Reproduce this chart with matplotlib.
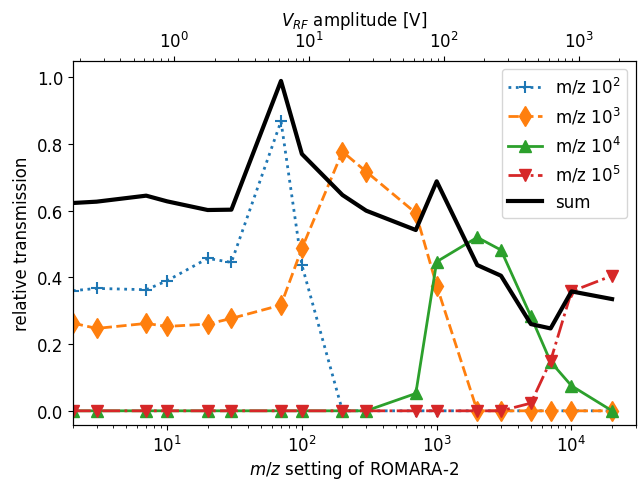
import matplotlib
matplotlib.use('Agg')
import matplotlib.pyplot as plt

plt.rcParams['font.size'] = 12

# m/z settings of ROMARA-2
mz = [2, 3, 7, 10, 20, 30, 70, 100, 200, 300, 700, 1000, 2000, 3000, 5000, 7000, 10000, 20000]

t_1e2 = [0.360, 0.367, 0.363, 0.390, 0.457, 0.445, 0.868, 0.437, 0, 0, 0, 0, 0, 0, 0, 0, 0, 0]
t_1e3 = [0.263, 0.247, 0.262, 0.253, 0.260, 0.277, 0.317, 0.487, 0.777, 0.717, 0.593, 0.375, 0, 0, 0, 0, 0, 0]
t_1e4 = [0, 0, 0, 0, 0, 0, 0, 0, 0, 0, 0.052, 0.447, 0.520, 0.482, 0.283, 0.147, 0.075, 0]
t_1e5 = [0, 0, 0, 0, 0, 0, 0, 0, 0, 0, 0, 0, 0, 0, 0.023, 0.150, 0.358, 0.405]
t_sum = [0.623, 0.627, 0.645, 0.628, 0.602, 0.603, 0.989, 0.770, 0.647, 0.600, 0.542, 0.688,
         0.437, 0.405, 0.260, 0.247, 0.358, 0.335]

# RF amplitude per unit m/z
volt_per_mz = 0.0887

fig, ax = plt.subplots(figsize=(6.39, 4.81), dpi=100)
fig.subplots_adjust(left=0.114, right=0.995, bottom=0.114, top=0.872)

ax.plot(mz, t_1e2, ':', marker='+', ms=9, mew=1.5, lw=2, color='tab:blue', label='m/z $10^2$')
ax.plot(mz, t_1e3, '--', marker='d', ms=10, lw=2, color='tab:orange', label='m/z $10^3$')
ax.plot(mz, t_1e4, '-', marker='^', ms=9, lw=2, color='tab:green', label='m/z $10^4$')
ax.plot(mz, t_1e5, '-.', marker='v', ms=9, lw=2, color='tab:red', label='m/z $10^5$')
ax.plot(mz, t_sum, '-', lw=3, color='black', label='sum')

ax.set_xscale('log')
ax.set_xlim(2, 3e4)
ax.set_ylim(-0.043, 1.05)
ax.set_xlabel('$m/z$ setting of ROMARA-2', labelpad=2)
ax.set_ylabel('relative transmission')
ax.legend(loc='upper right')

ax2 = ax.twiny()
ax2.set_xscale('log')
ax2.set_xlim(2 * volt_per_mz, 3e4 * volt_per_mz)
ax2.set_xlabel('$V_{RF}$ amplitude [V]')

fig.savefig('out.png', dpi=100)
